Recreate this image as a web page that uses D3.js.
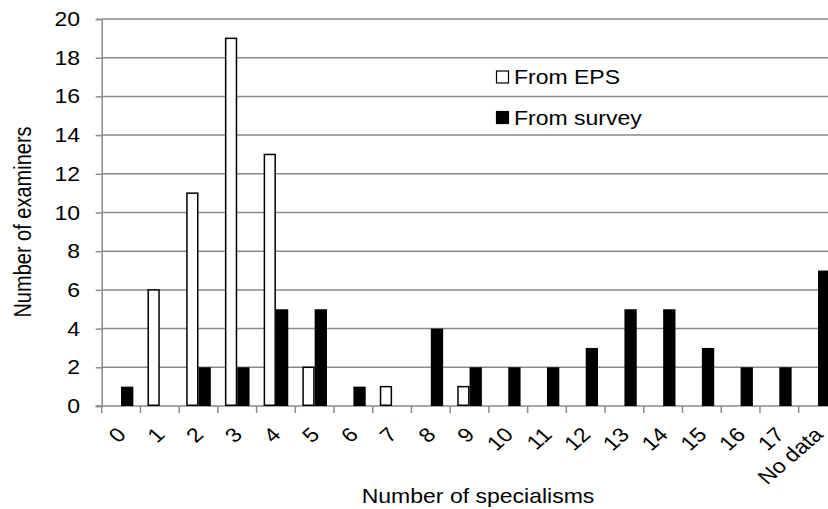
<!DOCTYPE html>
<html>
<head>
<meta charset="utf-8">
<script src="https://cdn.jsdelivr.net/npm/d3@7/dist/d3.min.js"></script>
<style>
html,body{margin:0;padding:0;background:#fff;}
svg{display:block;}
text{font-family:"Liberation Sans",Arial,sans-serif;fill:#000;}
</style>
</head>
<body>
<svg id="chart" width="828" height="509"></svg>
<script>
const categories = ["0","1","2","3","4","5","6","7","8","9","10","11","12","13","14","15","16","17","No data"];
const fromEPS    = [0, 6, 11, 19, 13, 2, 0, 1, 0, 1, 0, 0, 0, 0, 0, 0, 0, 0, 0];
const fromSurvey = [1, 0, 2, 2, 5, 5, 1, 0, 4, 2, 2, 2, 3, 5, 5, 3, 2, 2, 7];
const seriesNames = ["From EPS", "From survey"];
const yTicks = [0, 2, 4, 6, 8, 10, 12, 14, 16, 18, 20];

const SX = 1.15; // horizontal stretch of the original picture
const svg = d3.select("#chart");
const plotL = 101.7, plotR = 837.4, plotT = 19, plotB = 406;
const grid = "#8a8a8a";

const y = d3.scaleLinear().domain([0, 20]).range([plotB, plotT]);
const x = d3.scaleBand().domain(categories).range([plotL, plotR]).paddingInner(0.364).paddingOuter(0.182);
const xs = d3.scaleBand().domain(seriesNames).range([0, x.bandwidth()]);

// gridlines
svg.append("g").selectAll("line").data(yTicks.filter(d => d > 0)).join("line")
  .attr("x1", plotL).attr("x2", plotR).attr("y1", d => y(d)).attr("y2", d => y(d))
  .attr("stroke", grid).attr("stroke-width", 1.5);

// y axis
const yAxis = svg.append("g").attr("transform", `translate(${plotL},0)`)
  .call(d3.axisLeft(y).tickValues(yTicks).tickSize(6).tickFormat(""));
yAxis.select(".domain").attr("stroke", grid).attr("stroke-width", 1.5);
yAxis.selectAll(".tick line").attr("stroke", grid).attr("stroke-width", 1.5);

svg.append("g").selectAll("text").data(yTicks).join("text")
  .attr("transform", d => `translate(80,${y(d)}) scale(${SX},1)`)
  .attr("text-anchor", "end").attr("dy", "0.35em")
  .style("font-size", "20px").text(d => d);

// x axis
const step = x.step();
const bounds = d3.range(categories.length + 1).map(i => plotL + i * step);
svg.append("line").attr("x1", plotL - 6).attr("x2", plotR).attr("y1", plotB).attr("y2", plotB)
  .attr("stroke", grid).attr("stroke-width", 1.5);
svg.append("g").selectAll("line").data(bounds).join("line")
  .attr("x1", d => d).attr("x2", d => d).attr("y1", plotB).attr("y2", plotB + 7)
  .attr("stroke", grid).attr("stroke-width", 1.5);

// bars
const groups = svg.append("g").selectAll("g").data(categories).join("g")
  .attr("transform", d => `translate(${x(d)},0)`);
groups.each(function(c, i) {
  const g = d3.select(this);
  if (fromEPS[i] > 0) {
    g.append("rect").attr("x", xs("From EPS") + 0.75).attr("width", xs.bandwidth() - 1.5)
      .attr("y", y(fromEPS[i])).attr("height", y(0) - y(fromEPS[i]) - 0.75)
      .attr("fill", "#fff").attr("stroke", "#000").attr("stroke-width", 1.5);
  }
  if (fromSurvey[i] > 0) {
    g.append("rect").attr("x", xs("From survey")).attr("width", xs.bandwidth())
      .attr("y", y(fromSurvey[i])).attr("height", y(0) - y(fromSurvey[i]))
      .attr("fill", "#000");
  }
});

// x tick labels
svg.append("g").selectAll("text").data(categories).join("text")
  .attr("transform", d => `translate(${x(d) + x.bandwidth() / 2 + 0.5},431) scale(${SX},1) rotate(-45)`)
  .attr("text-anchor", "end").attr("dy", "0.35em")
  .style("font-size", "20px").text(d => d);

// axis titles
svg.append("text").attr("transform", `translate(478,503) scale(${SX},1)`)
  .attr("text-anchor", "middle").style("font-size", "20px").text("Number of specialisms");
svg.append("text").attr("transform", `translate(31,222) scale(${SX},1) rotate(-90)`)
  .attr("text-anchor", "middle").style("font-size", "20px").text("Number of examiners");

// legend
const legend = svg.append("g");
const legY = [77, 117.5];
seriesNames.forEach((s, i) => {
  legend.append("rect").attr("x", 496.5).attr("y", legY[i] - 6).attr("width", 12).attr("height", 12)
    .attr("fill", i === 0 ? "#fff" : "#000").attr("stroke", "#000").attr("stroke-width", 1.2);
  legend.append("text").attr("transform", `translate(514,${legY[i]}) scale(${SX},1)`)
    .attr("dy", "0.35em").style("font-size", "20px").text(s);
});
</script>
</body>
</html>
